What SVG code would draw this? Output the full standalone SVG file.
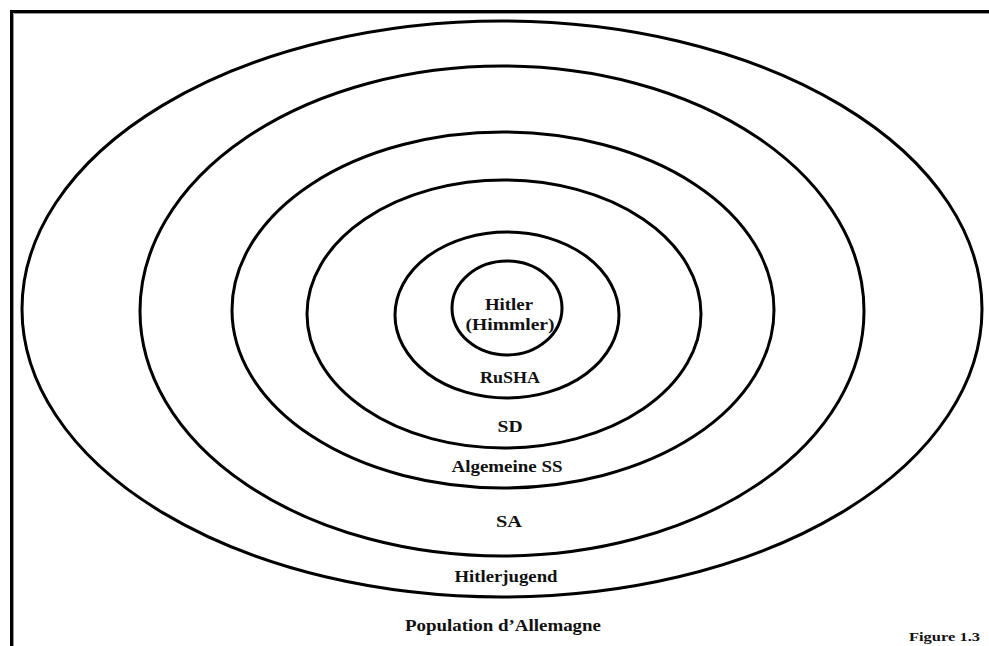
<svg xmlns="http://www.w3.org/2000/svg" width="989" height="646" viewBox="0 0 989 646">
<style>
.ring{fill:none;stroke:#000;stroke-width:3}
.t{font-family:"Liberation Serif","Times New Roman",serif;font-weight:bold;font-size:16px;fill:#111;text-anchor:middle}
.f{font-family:"Liberation Serif","Times New Roman",serif;font-weight:bold;font-size:12.5px;fill:#111}
</style>
<rect width="989" height="646" fill="#fff"/>
<path d="M11.5 646 V11.5 H989" fill="none" stroke="#000" stroke-width="3"/>
<path d="M13.5 646 V13.5 H989" fill="none" stroke="#999" stroke-width="1"/>
<g id="population">
<ellipse class="ring" cx="502" cy="309" rx="480" ry="288"/>
<text class="t" x="503" y="631" textLength="196" lengthAdjust="spacingAndGlyphs">Population d’Allemagne</text>
</g>
<g id="hitlerjugend">
<ellipse class="ring" cx="502" cy="311" rx="362" ry="245"/>
<text class="t" x="506" y="582" textLength="103" lengthAdjust="spacingAndGlyphs">Hitlerjugend</text>
</g>
<g id="sa">
<ellipse class="ring" cx="503" cy="310" rx="271" ry="178"/>
<text class="t" x="509" y="527" textLength="26" lengthAdjust="spacingAndGlyphs">SA</text>
</g>
<g id="algemeine-ss">
<ellipse class="ring" cx="504" cy="314" rx="197" ry="134"/>
<text class="t" x="507" y="472" textLength="111" lengthAdjust="spacingAndGlyphs">Algemeine SS</text>
</g>
<g id="sd">
<ellipse class="ring" cx="507" cy="315" rx="112" ry="83"/>
<text class="t" x="510" y="432" textLength="25" lengthAdjust="spacingAndGlyphs">SD</text>
</g>
<g id="rusha">
<ellipse class="ring" cx="507" cy="308" rx="55" ry="47"/>
<text class="t" x="510" y="383" textLength="60" lengthAdjust="spacingAndGlyphs">RuSHA</text>
</g>
<g id="hitler">
<text class="t" x="509" y="310" textLength="48" lengthAdjust="spacingAndGlyphs">Hitler</text>
<text class="t" x="510" y="330" textLength="89" lengthAdjust="spacingAndGlyphs">(Himmler)</text>
</g>
<text class="f" x="909" y="641" textLength="71" lengthAdjust="spacingAndGlyphs">Figure 1.3</text>
</svg>
